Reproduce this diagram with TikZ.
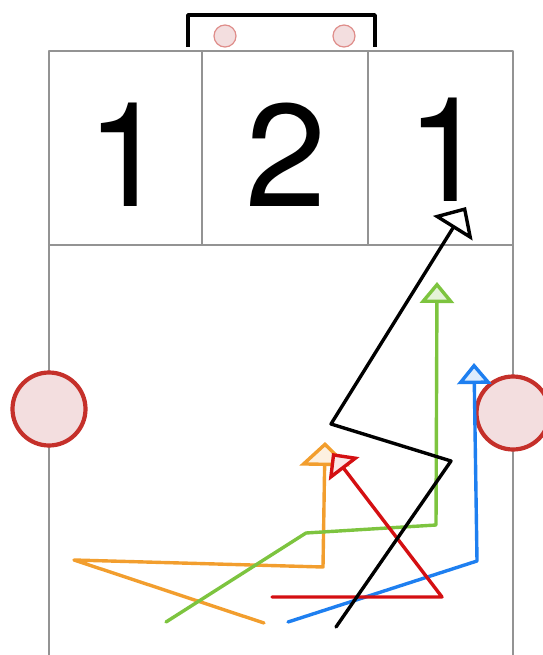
\documentclass[tikz,border=0pt]{standalone}
\usepackage{fontspec}
\setsansfont{TeX Gyre Heros}
\usetikzlibrary{arrows.meta}
\definecolor{pass}{HTML}{F29E2E}
\definecolor{lime}{HTML}{7DC43F}
\definecolor{sky}{HTML}{1E7FF0}
\definecolor{blood}{HTML}{D40F12}
\definecolor{cone}{HTML}{C5302A}
\definecolor{conefill}{HTML}{F3DEDF}
\begin{document}
\begin{tikzpicture}[line join=round, line cap=round, x=1pt, y=-1pt]
\tikzset{court/.style={draw=gray!85, line width=1.2pt},
  zone/.style={font=\sffamily\fontsize{146}{146}\selectfont, inner sep=0pt},
  run/.style={line width=3.4pt},
  cone/.style={draw=cone, fill=conefill, line width=4.2pt},
  ball/.style={draw=cone!55, fill=conefill, line width=1.2pt}}
\useasboundingbox (0,0) rectangle (542,655);
% court
\draw[court] (49,655)--(49,51)--(513,51)--(513,655);
\draw[court] (49,245)--(513,245);
\draw[court] (202,51)--(202,245);
\draw[court] (368,51)--(368,245);
% goal
\draw[line width=3.8pt, line cap=butt] (188,47)--(188,15)--(375,15)--(375,47);
\draw[ball] (225,36) circle (11);
\draw[ball] (344,36) circle (11);
% zones
\node[zone] (zl) at (127,155) {1};
\node[zone] (zm) at (286,155) {2};
\node[zone] (zr) at (447,150) {1};
% cones
\draw[cone] (49,409) circle (36.5);
\draw[cone] (513,413) circle (36.5);
% runs
\draw[run, pass, -{Triangle[width=50pt, length=24pt, fill=pass!15]}]
  (264,623)--(74,560)--(323,567)--(325,442);
\draw[run, lime, -{Triangle[width=34pt, length=21pt, fill=lime!20]}]
  (166,622)--(306,533)--(436,525)--(437,282);
\draw[run, sky, -{Triangle[width=34pt, length=21pt, fill=sky!15]}]
  (288,622)--(477,561)--(474,363);
\draw[run, blood, -{Triangle[width=38pt, length=20pt, fill=blood!10]}]
  (272,597)--(442,597)--(332,453);
\draw[run, black, -{Triangle[width=46pt, length=25pt, fill=white]}]
  (336,627)--(451,461)--(331,424)--(466,207);
\end{tikzpicture}
\end{document}
